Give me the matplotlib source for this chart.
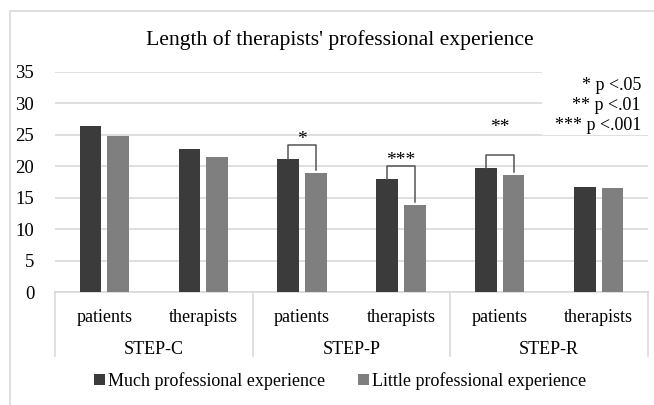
import matplotlib
matplotlib.use("Agg")
import matplotlib.pyplot as plt
from matplotlib.patches import Rectangle
import matplotlib.transforms as mtransforms

plt.rcParams['font.family'] = ['Liberation Serif', 'DejaVu Serif']

title = "Length of therapists' professional experience"
groups = ["STEP-C", "STEP-P", "STEP-R"]
subcats = ["patients", "therapists", "patients", "therapists", "patients", "therapists"]
much = [26.4, 22.7, 21.1, 17.9, 19.7, 16.7]
little = [24.8, 21.4, 18.9, 13.9, 18.6, 16.5]
series_names = ["Much professional experience", "Little professional experience"]
yticks = [0, 5, 10, 15, 20, 25, 30, 35]
# significance: (category index, label, bracket top, label y)
sig_idx = [2, 3, 4]
sig_lbl = ["*", "***", "**"]
sig_top = [23.3, 20.0, 21.8]
sig_txt = [24.2, 20.9, 26.2]
sig_notes = ["* p <.05", "** p <.01", "*** p <.001"]

W, H = 654, 405
fig = plt.figure(figsize=(W / 100, H / 100), dpi=100)
# outer frame
fig.patches.append(Rectangle((10 / W, -0.1), 1.2, 1 - 11 / H + 0.1, transform=fig.transFigure,
                             fill=False, edgecolor="#d9d9d9", lw=1.2))

ax = fig.add_axes([55 / W, 1 - 292.3 / H, (648 - 55) / W, (292.3 - 71.7) / H])
dark, light = "#3b3b3b", "#7f7f7f"
x = list(range(len(subcats)))
bw, off = 0.22, 0.14
ax.bar([i - off for i in x], much, bw, color=dark, label=series_names[0], zorder=3)
ax.bar([i + off for i in x], little, bw, color=light, label=series_names[1], zorder=3)

ax.set_xlim(-0.5, len(subcats) - 0.5)
ax.set_ylim(0, 35)
ax.set_yticks(yticks)
ax.yaxis.grid(True, color="#d9d9d9", lw=1.2, zorder=0)
for s in ["top", "right", "left"]:
    ax.spines[s].set_visible(False)
ax.spines["bottom"].set_color("#d9d9d9")
ax.spines["bottom"].set_linewidth(1.2)
ax.tick_params(axis="y", length=0, labelsize=13.5, pad=15, colors="#000000")
ax.tick_params(axis="x", length=0)
ax.set_xticks(x)
ax.set_xticklabels([])

tr = mtransforms.blended_transform_factory(ax.transData, fig.transFigure)
for i, c in enumerate(subcats):
    ax.text(i, 1 - 317 / H, c, transform=tr, ha="center", va="center", fontsize=13)
for g, name in enumerate(groups):
    ax.text(2 * g + 0.5, 1 - 350 / H, name, transform=tr, ha="center", va="center", fontsize=13)
for b in [-0.5, 1.5, 3.5, 5.5]:
    ax.plot([b, b], [1 - 292.3 / H, 1 - 356 / H], transform=tr, color="#d9d9d9", lw=1.2, clip_on=False)

for i, lbl, top, ty in zip(sig_idx, sig_lbl, sig_top, sig_txt):
    l, r = i - off, i + off
    ax.plot([l, l, r, r], [much[i] + 0.1, top, top, little[i] + 0.5], color="#555555", lw=1.1, zorder=4)
    ax.text(i, ty, lbl, ha="center", va="center", fontsize=14, zorder=5)

# note box hides gridlines
fig.patches.append(Rectangle((542 / W, 1 - 135 / H), (652 - 542) / W, 66 / H, transform=fig.transFigure,
                             facecolor="white", edgecolor="none", zorder=10))
for k, t in enumerate(sig_notes):
    fig.text(641 / W, 1 - (85 + 20.5 * k) / H, t, ha="right", va="center", fontsize=13, zorder=11)

fig.text(340 / W, 1 - 40 / H, title, ha="center", va="center", fontsize=15.6)

fig.legend(loc="center", bbox_to_anchor=(340 / W, 1 - 381 / H), ncol=2, frameon=False,
           fontsize=13, handlelength=0.6, handleheight=0.6, handletextpad=0.2, columnspacing=1.8)

fig.savefig("out.png", dpi=100)
